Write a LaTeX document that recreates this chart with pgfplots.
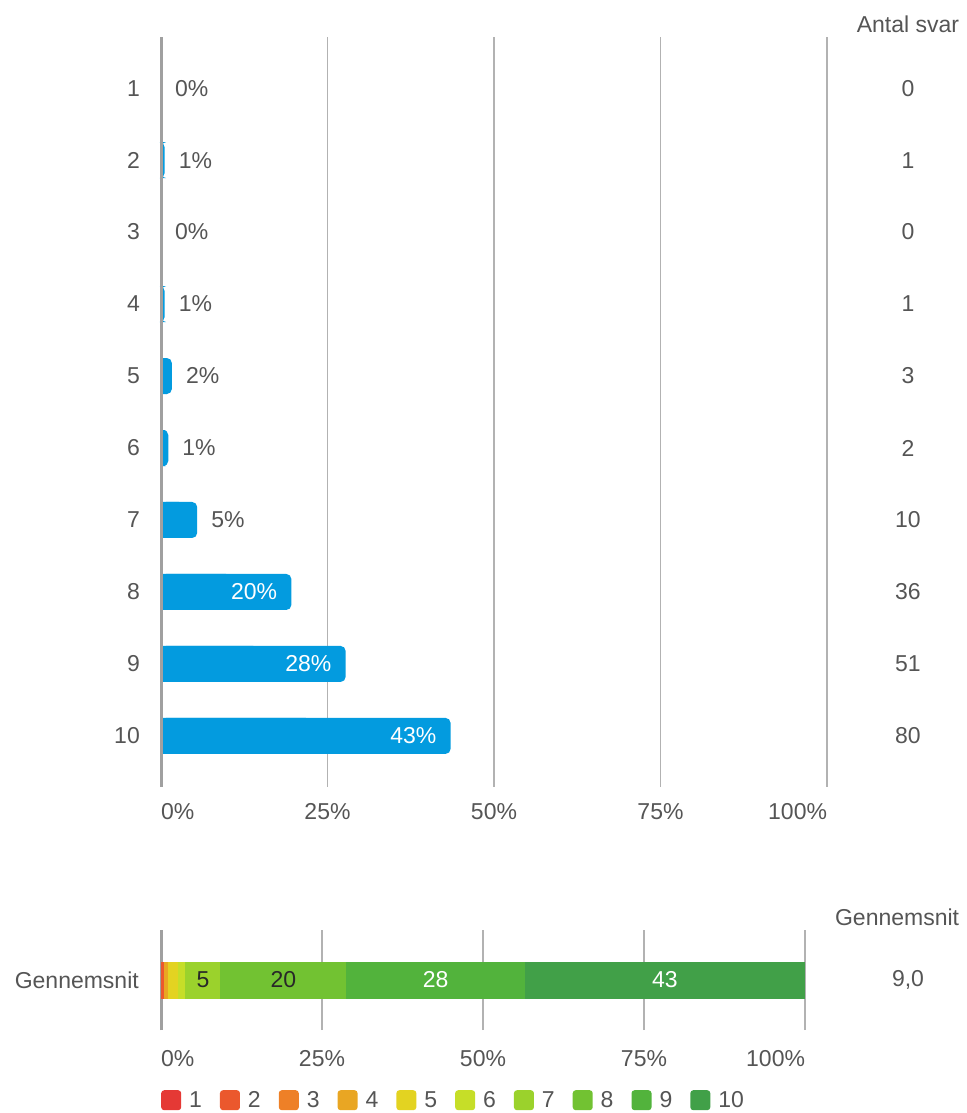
\documentclass[border=0pt]{standalone}
\usepackage{fontspec}
\setmainfont{Liberation Sans}
\usepackage{pgfplots}
\usepackage{pgfplotstable}
\pgfplotsset{compat=1.18}

\definecolor{barblue}{RGB}{3,155,223}
\definecolor{txtgray}{RGB}{85,85,85}
\definecolor{darktxt}{RGB}{40,40,40}
\definecolor{gridgray}{RGB}{178,178,178}
\definecolor{zerogray}{RGB}{160,160,160}
\definecolor{s1}{RGB}{229,57,53}
\definecolor{s2}{RGB}{235,88,45}
\definecolor{s3}{RGB}{238,128,39}
\definecolor{s4}{RGB}{233,166,35}
\definecolor{s5}{RGB}{227,211,33}
\definecolor{s6}{RGB}{198,222,40}
\definecolor{s7}{RGB}{155,210,44}
\definecolor{s8}{RGB}{114,194,50}
\definecolor{s9}{RGB}{82,179,60}
\definecolor{s10}{RGB}{65,160,72}

\newcommand\fs{\fontsize{23}{27}\selectfont}

% score, share in percent, rounded label, number of answers
\pgfplotstableread{
k  pct    lab  n
1  0      0    0
2  0.54   1    1
3  0      0    0
4  0.54   1    1
5  1.63   2    3
6  1.09   1    2
7  5.43   5    10
8  19.57  20   36
9  27.72  28   51
10 43.48  43   80
}\scores

% centres of the labelled segments in the stacked bar
\pgfplotstableread{
mid   lab
6.52  5
19.02 20
42.66 28
78.26 43
}\seglabels

\begin{document}
\begin{tikzpicture}
\useasboundingbox (0,0) rectangle (966pt,-1113pt);

% ---------- distribution ----------
\begin{axis}[
  at={(161pt,-787pt)}, anchor=south west,
  scale only axis, width=666pt, height=750pt,
  xmin=0, xmax=100, ymin=0.29, ymax=10.71, y dir=reverse,
  clip=false,
  axis line style={draw=none}, major tick length=0pt,
  xtick={0,25,50,75,100},
  xticklabels={\makebox[0pt][l]{0\%},25\%,50\%,75\%,\makebox[0pt][r]{100\%}},
  ytick={1,...,10},
  yticklabels={1,2,3,4,5,6,7,8,9,10},
  xmajorgrids, grid style={gridgray, line width=1.3pt},
  ticklabel style={font=\fs, text=txtgray, inner sep=0pt},
  xticklabel style={anchor=north, yshift=-16pt},
  yticklabel style={anchor=east, xshift=-21pt},
]
\addplot[xbar, bar width=36pt, bar shift=0pt, fill=barblue, draw=none, rounded corners=5pt]
  table[x=pct, y=k] {\scores};
\addplot[xbar, bar width=36pt, bar shift=0pt, fill=barblue, draw=none]
  table[x expr=\thisrow{pct}/2, y=k] {\scores};
\draw[zerogray, line width=3pt] (axis cs:0,0.29) -- (axis cs:0,10.71);

\addplot[draw=none, mark=none, restrict y to domain=0:7.5,
  point meta=explicit symbolic, nodes near coords={\pgfplotspointmeta\%},
  nodes near coords style={anchor=west, xshift=14pt, inner sep=0pt, font=\fs, text=txtgray}]
  table[x=pct, y=k, meta=lab] {\scores};
\addplot[draw=none, mark=none, restrict y to domain=7.5:11,
  point meta=explicit symbolic, nodes near coords={\pgfplotspointmeta\%},
  nodes near coords style={anchor=east, xshift=-14pt, inner sep=0pt, font=\fs, text=white}]
  table[x=pct, y=k, meta=lab] {\scores};
\addplot[draw=none, mark=none,
  point meta=explicit symbolic, nodes near coords={\pgfplotspointmeta},
  nodes near coords style={anchor=center, inner sep=0pt, font=\fs, text=txtgray}]
  table[x expr=112.16, y=k, meta=n] {\scores};
\node[font=\fs, text=txtgray, inner sep=0pt] at (axis cs:112.16,0.11) {Antal svar};
\end{axis}

% ---------- average ----------
\begin{axis}[
  at={(161pt,-1030pt)}, anchor=south west,
  scale only axis, width=644pt, height=100pt,
  xmin=0, xmax=100, ymin=-0.5, ymax=0.5,
  xbar stacked, bar width=37pt, clip=false,
  axis line style={draw=none}, major tick length=0pt,
  xtick={0,25,50,75,100},
  xticklabels={\makebox[0pt][l]{0\%},25\%,50\%,75\%,\makebox[0pt][r]{100\%}},
  ytick={0}, yticklabels={Gennemsnit},
  xmajorgrids, grid style={gridgray, line width=1.3pt},
  ticklabel style={font=\fs, text=txtgray, inner sep=0pt},
  xticklabel style={anchor=north, yshift=-20pt},
  yticklabel style={anchor=east, xshift=-22pt},
  every axis plot post/.append style={draw=none,
    legend image code/.code={\fill[##1, draw=none, rounded corners=3pt] (0pt,-10pt) rectangle (20pt,10pt);}},
  legend columns=10,
  legend style={at={(0,-0.6)}, anchor=north west, draw=none, fill=none,
    inner sep=0pt, font=\fs, text=txtgray,
    nodes={inner sep=0pt},
    /tikz/every odd column/.append style={column sep=8pt},
    /tikz/every even column/.append style={column sep=18pt}},
]
\addplot[fill=s1]  coordinates {(0,0)};
\addplot[fill=s2]  coordinates {(0.54,0)};
\addplot[fill=s3]  coordinates {(0,0)};
\addplot[fill=s4]  coordinates {(0.54,0)};
\addplot[fill=s5]  coordinates {(1.63,0)};
\addplot[fill=s6]  coordinates {(1.09,0)};
\addplot[fill=s7]  coordinates {(5.43,0)};
\addplot[fill=s8]  coordinates {(19.57,0)};
\addplot[fill=s9]  coordinates {(27.72,0)};
\addplot[fill=s10] coordinates {(43.48,0)};
\legend{1,2,3,4,5,6,7,8,9,10}
\draw[zerogray, line width=3pt] (axis cs:0,-0.5) -- (axis cs:0,0.5);
\node[font=\fs, text=txtgray, inner sep=0pt] at (axis cs:114.3,0.63) {Gennemsnit};
\node[font=\fs, text=txtgray, inner sep=0pt] at (axis cs:116.0,0) {9,0};
\end{axis}

% ---------- labels inside the stacked bar ----------
\begin{axis}[
  at={(161pt,-1030pt)}, anchor=south west,
  scale only axis, width=644pt, height=100pt,
  xmin=0, xmax=100, ymin=-0.5, ymax=0.5,
  hide axis, clip=false,
]
\addplot[draw=none, mark=none, restrict x to domain=0:30,
  point meta=explicit symbolic, nodes near coords={\pgfplotspointmeta},
  nodes near coords style={anchor=center, inner sep=0pt, font=\fs, text=darktxt}]
  table[x=mid, y expr=0, meta=lab] {\seglabels};
\addplot[draw=none, mark=none, restrict x to domain=30:100,
  point meta=explicit symbolic, nodes near coords={\pgfplotspointmeta},
  nodes near coords style={anchor=center, inner sep=0pt, font=\fs, text=white}]
  table[x=mid, y expr=0, meta=lab] {\seglabels};
\end{axis}
\end{tikzpicture}
\end{document}
